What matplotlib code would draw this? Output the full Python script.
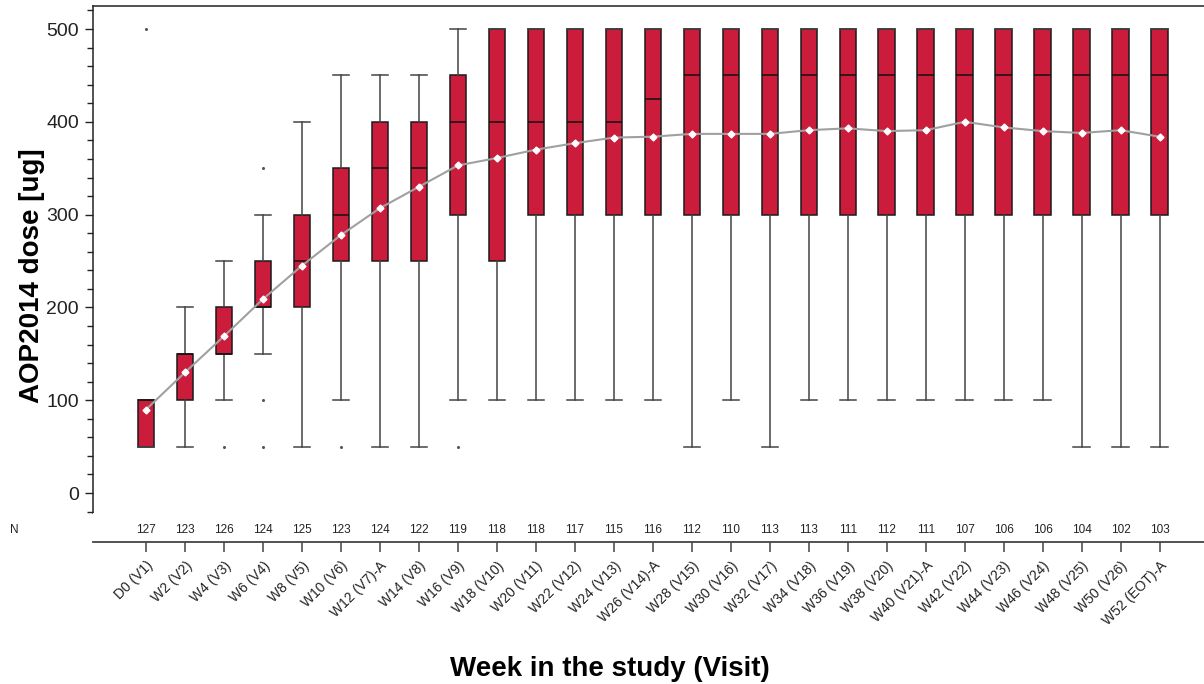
"""AOP2014 dose by study week: box plots with mean trend and N row."""

import matplotlib

matplotlib.use("Agg")

import matplotlib.pyplot as plt

plt.rcParams["font.family"] = ["Liberation Sans", "DejaVu Sans"]

visits = [
    "D0 (V1)", "W2 (V2)", "W4 (V3)", "W6 (V4)", "W8 (V5)", "W10 (V6)", "W12 (V7)-A",
    "W14 (V8)", "W16 (V9)", "W18 (V10)", "W20 (V11)", "W22 (V12)", "W24 (V13)",
    "W26 (V14)-A", "W28 (V15)", "W30 (V16)", "W32 (V17)", "W34 (V18)", "W36 (V19)",
    "W38 (V20)", "W40 (V21)-A", "W42 (V22)", "W44 (V23)", "W46 (V24)", "W48 (V25)",
    "W50 (V26)", "W52 (EOT)-A",
]
n_subjects = [127, 123, 126, 124, 125, 123, 124, 122, 119, 118, 118, 117, 115, 116,
              112, 110, 113, 113, 111, 112, 111, 107, 106, 106, 104, 102, 103]
q1 = [50, 100, 150, 200, 200, 250, 250, 250, 300, 250, 300, 300, 300, 300,
      300, 300, 300, 300, 300, 300, 300, 300, 300, 300, 300, 300, 300]
median = [100, 150, 150, 200, 250, 300, 350, 350, 400, 400, 400, 400, 400, 425,
          450, 450, 450, 450, 450, 450, 450, 450, 450, 450, 450, 450, 450]
q3 = [100, 150, 200, 250, 300, 350, 400, 400, 450, 500, 500, 500, 500, 500,
      500, 500, 500, 500, 500, 500, 500, 500, 500, 500, 500, 500, 500]
whisker_lo = [50, 50, 100, 150, 50, 100, 50, 50, 100, 100, 100, 100, 100, 100,
              50, 100, 50, 100, 100, 100, 100, 100, 100, 100, 50, 50, 50]
whisker_hi = [100, 200, 250, 300, 400, 450, 450, 450, 500, 500, 500, 500, 500, 500,
              500, 500, 500, 500, 500, 500, 500, 500, 500, 500, 500, 500, 500]
means = [90, 130, 169, 209, 245, 278, 307, 330, 353, 361, 370, 377, 383, 384,
         387, 387, 387, 391, 393, 390, 391, 400, 394, 390, 388, 391, 384]
outliers = [[500], [], [50], [50, 100, 350], [], [50], [], [], [50], [], [], [], [], [],
            [], [], [], [], [], [], [], [], [], [], [], [], []]

BOX_RED = "#CC1C3C"
W, H = 1204, 684

fig = plt.figure(figsize=(12.04, 6.84), dpi=100, facecolor="white")
ax = fig.add_axes([93 / W, 1 - 513 / H, 1 - 93 / W, 507 / H])

stats = []
for i in range(len(visits)):
    stats.append({
        "q1": q1[i], "med": median[i], "q3": q3[i],
        "whislo": whisker_lo[i], "whishi": whisker_hi[i],
        "fliers": outliers[i], "mean": means[i],
    })
positions = list(range(len(visits)))
ax.bxp(
    stats,
    positions=positions,
    widths=0.42,
    patch_artist=True,
    showfliers=True,
    showmeans=False,
    boxprops=dict(facecolor=BOX_RED, edgecolor="#1a1a1a", linewidth=1.1),
    medianprops=dict(color="#111111", linewidth=1.1),
    whiskerprops=dict(color="#444444", linewidth=1.1),
    capprops=dict(color="#444444", linewidth=1.1),
    capwidths=0.42,
    flierprops=dict(marker="o", markersize=2.2, markerfacecolor="#555555",
                    markeredgecolor="none"),
)
ax.plot(positions, means, color="#A0A0A0", lw=1.5, zorder=4)
ax.plot(positions, means, ls="none", marker="D", markersize=3.5,
        markerfacecolor="white", markeredgecolor="white", zorder=5)

ax.set_xlim(-1.36, 27.14)
ax.set_ylim(-21.5, 524.8)
ax.set_yticks([0, 100, 200, 300, 400, 500])
ax.set_yticks(range(-20, 521, 20), minor=True)
ax.tick_params(axis="y", which="major", labelsize=14, length=6, width=1.0,
               colors="#222222", pad=4)
ax.tick_params(axis="y", which="minor", length=4, width=1.0, colors="#222222")
ax.set_xticks([])
for side in ["right", "bottom"]:
    ax.spines[side].set_visible(False)
for side in ["left", "top"]:
    ax.spines[side].set_color("#222222")
    ax.spines[side].set_linewidth(1.1)
fig.text(32 / W, 1 - 276 / H, "AOP2014 dose [ug]", rotation=90, ha="center", va="center",
         fontsize=20, fontweight="bold")

axn = fig.add_axes([93 / W, 1 - 542 / H, 1 - 93 / W, 29 / H])
axn.set_xlim(-1.36, 27.14)
axn.set_ylim(0, 1)
axn.set_yticks([])
for side in ["left", "right", "top"]:
    axn.spines[side].set_visible(False)
axn.spines["bottom"].set_color("#444444")
axn.spines["bottom"].set_linewidth(1.3)
axn.set_xticks(positions)
axn.set_xticklabels(visits, rotation=45, ha="right", rotation_mode="anchor",
                    fontsize=10, color="#222222")
axn.tick_params(axis="x", length=7, width=1.1, color="#444444", pad=5)
for x, n in zip(positions, n_subjects):
    axn.text(x, 0.42, f"{n}", ha="center", va="center", fontsize=8.5, color="#222222")
fig.text(14 / W, 1 - 530 / H, "N", ha="center", va="center", fontsize=8.5, color="#222222")

fig.text(610 / W, 1 - 669 / H, "Week in the study (Visit)", ha="center", va="center",
         fontsize=20, fontweight="bold")

fig.savefig("out.png", dpi=100, facecolor="white")
